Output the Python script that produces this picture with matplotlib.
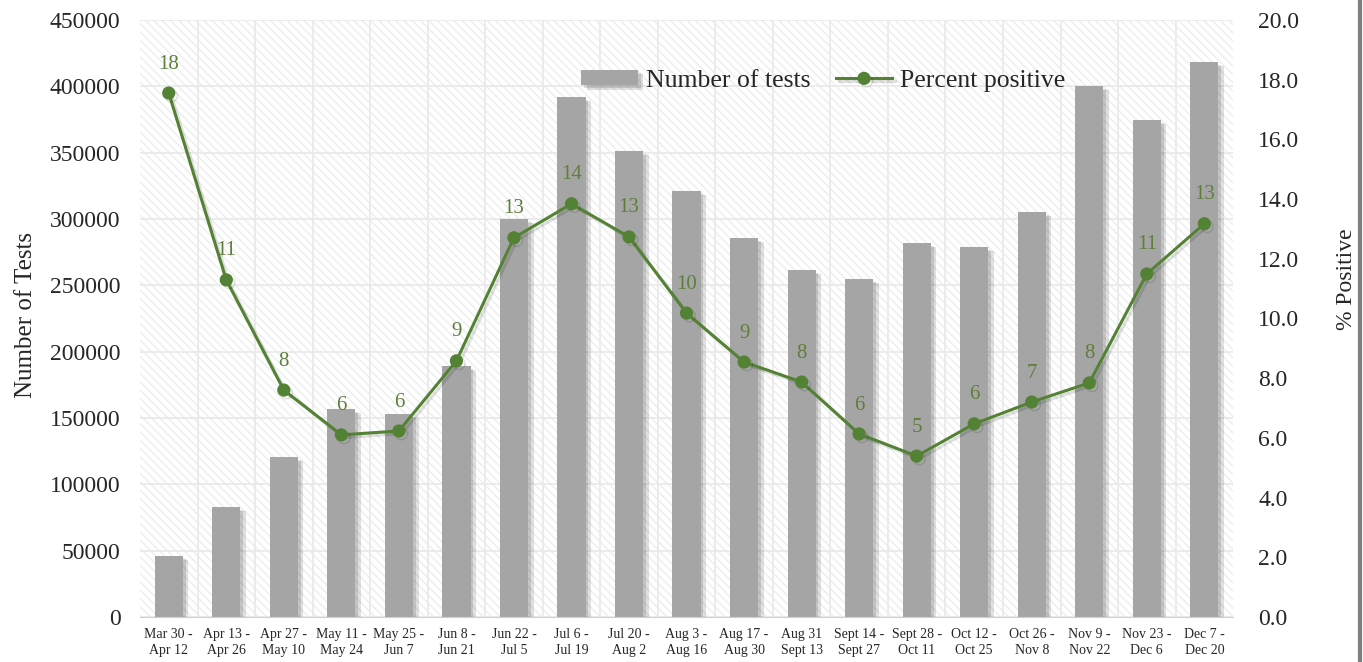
import matplotlib
matplotlib.use("Agg")
import matplotlib.pyplot as plt
import matplotlib.patheffects as pe
from matplotlib.patches import Rectangle
from matplotlib.lines import Line2D
from matplotlib.ticker import MultipleLocator, FormatStrFormatter

# ---- data ----
periods = ["Mar 30 -\nApr 12", "Apr 13 -\nApr 26", "Apr 27 -\nMay 10", "May 11 -\nMay 24",
           "May 25 -\nJun 7", "Jun 8 -\nJun 21", "Jun 22 -\nJul 5", "Jul 6 -\nJul 19",
           "Jul 20 -\nAug 2", "Aug 3 -\nAug 16", "Aug 17 -\nAug 30", "Aug 31\nSept 13",
           "Sept 14 -\nSept 27", "Sept 28 -\nOct 11", "Oct 12 -\nOct 25", "Oct 26 -\nNov 8",
           "Nov 9 -\nNov 22", "Nov 23 -\nDec 6", "Dec 7 -\nDec 20"]
num_tests = [45900, 82900, 120600, 156800, 153000, 189200, 300000, 392000, 351200, 321100,
             285700, 261500, 254800, 281900, 278900, 305300, 400200, 374600, 418300]
pct_positive = [17.55, 11.29, 7.60, 6.10, 6.23, 8.58, 12.70, 13.84, 12.73, 10.18,
                8.54, 7.87, 6.13, 5.39, 6.47, 7.20, 7.84, 11.49, 13.17]

plt.rcParams["font.family"] = ["Liberation Serif", "DejaVu Serif"]
plt.rcParams["hatch.linewidth"] = 1.0
TXT = "#262626"
BAR = "#a5a5a5"
GREEN = "#548235"
LBL = "#5e7f3c"

fig = plt.figure(figsize=(13.63, 6.62), dpi=100)
ax = fig.add_axes([0.1027, 0.068, 0.802, 0.902])
x = list(range(len(periods)))

# hatched background
ax.patch.set_visible(False)
ax.add_patch(Rectangle((0, 0), 1, 1, transform=ax.transAxes, facecolor="white",
                       edgecolor="#eeeeee", hatch="\\\\\\\\", lw=0, zorder=0))

bars = ax.bar(x, num_tests, width=0.49, color=BAR, label="Number of tests", zorder=2)
for b in bars:
    b.set_path_effects([pe.SimplePatchShadow(offset=(4, -3), shadow_rgbFace="k", alpha=0.12),
                        pe.SimplePatchShadow(offset=(2, -2), shadow_rgbFace="k", alpha=0.12),
                        pe.Normal()])

ax.set_xlim(-0.5, len(periods) - 0.5)
ax.set_ylim(0, 450000)
ax.yaxis.set_major_locator(MultipleLocator(50000))
ax.set_xticks(x)
ax.set_xticklabels(periods, fontsize=10, color=TXT, linespacing=1.3)
ax.set_xticks([i + 0.5 for i in x[:-1]], minor=True)
ax.set_axisbelow(True)
ax.grid(axis="y", which="major", color="#e9e9e9", lw=1.2)
ax.grid(axis="x", which="minor", color="#e9e9e9", lw=1.2)
ax.tick_params(axis="x", which="both", length=0, pad=8)
ax.tick_params(axis="y", length=0, pad=14, labelsize=17, labelcolor=TXT)
ax.set_ylabel("Number of Tests", fontsize=18, color=TXT)
ax.yaxis.set_label_coords(-0.094, 0.505)
for s in ["top", "left", "right"]:
    ax.spines[s].set_visible(False)
ax.spines["bottom"].set_color("#d0d0d0")

ax2 = ax.twinx()
ax2.plot(x, pct_positive, color=GREEN, lw=2.2, marker="o", ms=8.5, label="Percent positive",
         zorder=3, path_effects=[pe.SimpleLineShadow(offset=(2, -2), alpha=0.12), pe.Normal()])
for xi, v in zip(x, pct_positive):
    ax2.annotate(f"{round(v):d}", (xi, v), xytext=(0, 14), textcoords="offset points",
                 ha="center", va="bottom", fontsize=15, color=LBL)
ax2.set_ylim(0, 20)
ax2.yaxis.set_major_locator(MultipleLocator(2))
ax2.yaxis.set_major_formatter(FormatStrFormatter("%.1f"))
ax2.tick_params(axis="y", length=0, pad=18, labelsize=17, labelcolor=TXT)
ax2.set_ylabel("% Positive", fontsize=17, color=TXT)
ax2.yaxis.set_label_coords(1.094, 0.565)
for s in ax2.spines.values():
    s.set_visible(False)

h1, l1 = ax.get_legend_handles_labels()
h2, l2 = ax2.get_legend_handles_labels()
fig.legend(h1 + h2, l1 + l2, loc="center", bbox_to_anchor=(0.604, 0.878), ncol=2,
           frameon=False, fontsize=18.5, handlelength=2.2, handleheight=0.55,
           columnspacing=1.0, handletextpad=0.3, labelcolor=TXT)

fig.add_artist(Line2D([0.998, 0.998], [0, 1], transform=fig.transFigure, color="#7f7f7f", lw=3))

fig.savefig("out.png", dpi=100)
